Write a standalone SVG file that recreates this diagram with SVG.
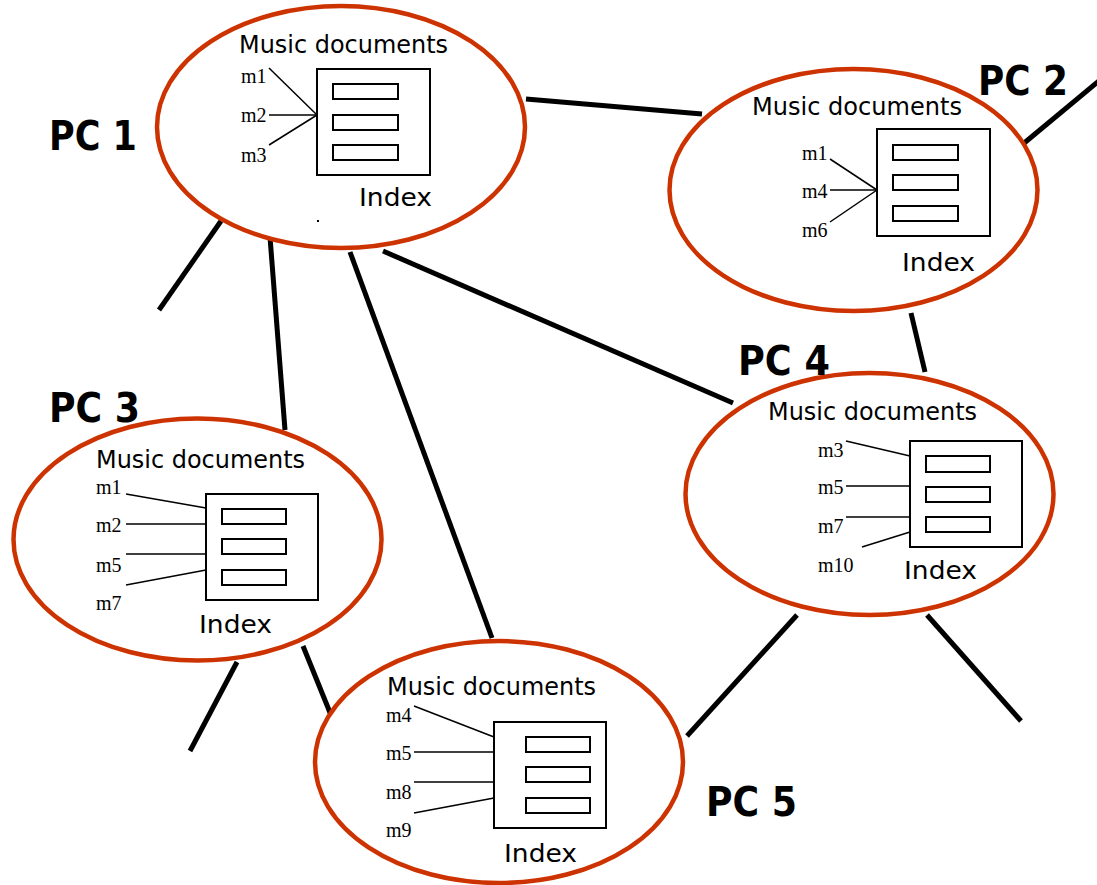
<svg xmlns="http://www.w3.org/2000/svg" width="1097" height="885" viewBox="0 0 1097 885">
<style>
.pc{fill:#fff;stroke:#cc3300;stroke-width:4.5}
.conn line{stroke:#000;stroke-width:5;stroke-linecap:butt}
.box{fill:none;stroke:#000;stroke-width:2}
.ln{stroke:#000;stroke-width:1.5}
.md{font-family:"DejaVu Sans",sans-serif;font-size:24px;fill:#000}
.ix{font-family:"DejaVu Sans",sans-serif;font-size:25px;fill:#000}
.m{font-family:"Liberation Serif",serif;font-size:20px;fill:#000}
.lbl{font-family:"DejaVu Sans",sans-serif;font-size:40px;font-weight:bold;fill:#000}
</style>
<rect width="1097" height="885" fill="#fff"/>
<g id="connectors" class="conn">
<line x1="526" y1="99" x2="702" y2="114"/>
<line x1="1023" y1="144" x2="1100" y2="80"/>
<line x1="221" y1="221" x2="159" y2="310"/>
<line x1="270" y1="237" x2="285" y2="430"/>
<line x1="350" y1="252" x2="492" y2="638"/>
<line x1="383" y1="251" x2="733" y2="403"/>
<line x1="911" y1="313" x2="925" y2="372"/>
<line x1="237" y1="662" x2="190" y2="751"/>
<line x1="303" y1="646" x2="333" y2="720"/>
<line x1="797" y1="615" x2="687" y2="736"/>
<line x1="927" y1="615" x2="1021" y2="721"/>
</g>
<g id="pc1">
<ellipse class="pc" cx="341" cy="127" rx="184" ry="121"/>
<text class="md" x="239" y="53" textLength="209" lengthAdjust="spacingAndGlyphs">Music documents</text>
<rect class="box" x="317" y="69" width="113" height="106"/>
<rect class="box" x="333" y="84" width="65" height="15"/>
<rect class="box" x="333" y="115" width="65" height="15"/>
<rect class="box" x="333" y="145" width="65" height="15"/>
<line class="ln" x1="269" y1="68" x2="317" y2="115"/>
<line class="ln" x1="269" y1="115" x2="317" y2="115"/>
<line class="ln" x1="269" y1="145" x2="317" y2="115"/>
<text class="m" x="241" y="83">m1</text>
<text class="m" x="241" y="122">m2</text>
<text class="m" x="241" y="162">m3</text>
<text class="ix" x="359" y="206" textLength="73" lengthAdjust="spacingAndGlyphs">Index</text>
<rect x="317" y="220" width="2" height="2" fill="#000"/>
<text class="lbl" x="49" y="150" textLength="88" lengthAdjust="spacingAndGlyphs">PC 1</text>
</g>
<g id="pc2">
<ellipse class="pc" cx="853.5" cy="190" rx="184" ry="121"/>
<text class="md" x="752" y="115" textLength="210" lengthAdjust="spacingAndGlyphs">Music documents</text>
<rect class="box" x="877" y="129" width="113" height="107"/>
<rect class="box" x="893" y="145" width="65" height="15"/>
<rect class="box" x="893" y="175" width="65" height="15"/>
<rect class="box" x="893" y="206" width="65" height="15"/>
<line class="ln" x1="830" y1="159" x2="877" y2="190"/>
<line class="ln" x1="830" y1="190" x2="877" y2="190"/>
<line class="ln" x1="830" y1="222" x2="877" y2="190"/>
<text class="m" x="802" y="160">m1</text>
<text class="m" x="802" y="198">m4</text>
<text class="m" x="802" y="237">m6</text>
<text class="ix" x="902" y="271" textLength="73" lengthAdjust="spacingAndGlyphs">Index</text>
<text class="lbl" x="978" y="95" textLength="90" lengthAdjust="spacingAndGlyphs">PC 2</text>
</g>
<g id="pc3">
<ellipse class="pc" cx="197.5" cy="539.5" rx="184" ry="121"/>
<text class="md" x="96" y="468" textLength="209" lengthAdjust="spacingAndGlyphs">Music documents</text>
<rect class="box" x="206" y="494" width="112" height="106"/>
<rect class="box" x="222" y="509" width="64" height="15"/>
<rect class="box" x="222" y="539" width="64" height="15"/>
<rect class="box" x="222" y="570" width="64" height="15"/>
<line class="ln" x1="126" y1="494" x2="206" y2="508"/>
<line class="ln" x1="126" y1="524" x2="206" y2="524"/>
<line class="ln" x1="126" y1="554" x2="206" y2="554"/>
<line class="ln" x1="126" y1="585" x2="206" y2="570"/>
<text class="m" x="96" y="494">m1</text>
<text class="m" x="96" y="532">m2</text>
<text class="m" x="96" y="572">m5</text>
<text class="m" x="96" y="610">m7</text>
<text class="ix" x="199" y="633" textLength="73" lengthAdjust="spacingAndGlyphs">Index</text>
<text class="lbl" x="49" y="422" textLength="91" lengthAdjust="spacingAndGlyphs">PC 3</text>
</g>
<g id="pc4">
<ellipse class="pc" cx="869.5" cy="494" rx="184" ry="121"/>
<text class="md" x="768" y="420" textLength="209" lengthAdjust="spacingAndGlyphs">Music documents</text>
<rect class="box" x="910" y="441" width="112" height="106"/>
<rect class="box" x="926" y="456" width="64" height="16"/>
<rect class="box" x="926" y="487" width="64" height="15"/>
<rect class="box" x="926" y="517" width="64" height="15"/>
<line class="ln" x1="846" y1="441" x2="910" y2="456"/>
<line class="ln" x1="846" y1="486" x2="910" y2="486"/>
<line class="ln" x1="846" y1="517" x2="910" y2="517"/>
<line class="ln" x1="862" y1="547" x2="910" y2="532"/>
<text class="m" x="818" y="457">m3</text>
<text class="m" x="818" y="494">m5</text>
<text class="m" x="818" y="533">m7</text>
<text class="m" x="818" y="572">m10</text>
<text class="ix" x="904" y="579" textLength="73" lengthAdjust="spacingAndGlyphs">Index</text>
<text class="lbl" x="738" y="375" textLength="92" lengthAdjust="spacingAndGlyphs">PC 4</text>
</g>
<g id="pc5">
<ellipse class="pc" cx="499" cy="762" rx="184" ry="121"/>
<text class="md" x="387" y="695" textLength="209" lengthAdjust="spacingAndGlyphs">Music documents</text>
<rect class="box" x="494" y="722" width="112" height="106"/>
<rect class="box" x="526" y="737" width="64" height="15"/>
<rect class="box" x="526" y="767" width="64" height="15"/>
<rect class="box" x="526" y="798" width="64" height="15"/>
<line class="ln" x1="414" y1="706" x2="494" y2="737"/>
<line class="ln" x1="414" y1="752" x2="494" y2="752"/>
<line class="ln" x1="414" y1="782" x2="494" y2="782"/>
<line class="ln" x1="414" y1="813" x2="494" y2="798"/>
<text class="m" x="386" y="722">m4</text>
<text class="m" x="386" y="760">m5</text>
<text class="m" x="386" y="799">m8</text>
<text class="m" x="386" y="837">m9</text>
<text class="ix" x="504" y="862" textLength="73" lengthAdjust="spacingAndGlyphs">Index</text>
<text class="lbl" x="706" y="816" textLength="91" lengthAdjust="spacingAndGlyphs">PC 5</text>
</g>
</svg>
